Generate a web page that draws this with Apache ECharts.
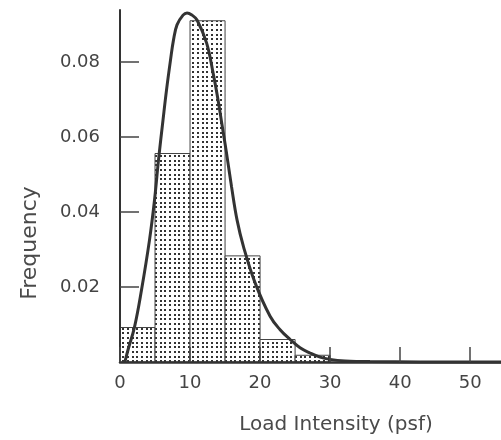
<!DOCTYPE html>
<html>
<head>
<meta charset="utf-8">
<script src="https://cdn.jsdelivr.net/npm/echarts@6/dist/echarts.min.js"></script>
<style>html,body{margin:0;padding:0;background:#fff;}#c{width:501px;height:440px;}</style>
</head>
<body>
<div id="c"></div>
<script>
// Histogram bins (psf) and frequencies
const binStart = [0, 5, 10, 15, 20, 25];
const binEnd = [5, 10, 15, 20, 25, 30];
const binFreq = [0.0092, 0.0556, 0.0910, 0.0283, 0.0060, 0.0018];

// Fitted curve points
const curveX = [0.7, 1.14, 2.07, 3.07, 4.21, 4.93, 5.5, 6.14, 6.64, 7.21, 7.64, 8.14, 9.0, 9.57, 10.29, 11.0, 12.36, 13.29, 14.0, 14.57, 15.21, 15.93, 16.71, 17.64, 19.29, 21.43, 22.86, 24.29, 25.71, 27.14, 28.57, 30, 32.14, 35.7, 42.9, 54.4];
const curveY = [0, 0.0032, 0.0093, 0.0192, 0.0325, 0.0432, 0.0539, 0.0645, 0.0725, 0.0805, 0.0859, 0.0899, 0.0925, 0.0931, 0.0925, 0.0912, 0.0851, 0.0771, 0.0699, 0.0632, 0.0557, 0.0467, 0.0379, 0.0307, 0.0211, 0.0122, 0.0086, 0.0060, 0.0038, 0.0024, 0.0013, 0.0007, 0.0003, 0.0001, 0.00003, 0];

const xTicks = [0, 10, 20, 30, 40, 50];
const yTicks = [0.02, 0.04, 0.06, 0.08];

// dotted fill pattern
const pc = document.createElement('canvas');
pc.width = 14; pc.height = 14;
const g = pc.getContext('2d');
g.fillStyle = '#fff'; g.fillRect(0, 0, 14, 14);
g.fillStyle = '#333';
[1, 6, 10].forEach(function (px) { [1, 6, 10].forEach(function (py) { g.fillRect(px, py, 2, 2); }); });
const pattern = { image: pc, repeat: 'repeat' };

const histData = binStart.map(function (s, i) { return [s, binEnd[i], binFreq[i]]; });
const curveData = curveX.map(function (x, i) { return [x, curveY[i]]; });

const chart = echarts.init(document.getElementById('c'), null, { renderer: 'canvas' });
chart.setOption({
  animation: false,
  backgroundColor: '#fff',
  grid: { left: 120, top: 10, right: 0, bottom: 78, containLabel: false, outerBoundsMode: 'none' },
  xAxis: {
    type: 'value', min: 0, max: 54.4, interval: 10, z: 5,
    axisLine: { show: true, onZero: false, lineStyle: { color: '#333', width: 2.5 } },
    axisTick: { show: true, inside: true, length: 15, lineStyle: { color: '#444', width: 1.5 } },
    splitLine: { show: false },
    axisLabel: {
      margin: 12, color: '#444', fontSize: 18, fontFamily: 'DejaVu Sans',
      showMaxLabel: false,
      formatter: function (v) { return xTicks.indexOf(v) >= 0 ? String(v) : ''; }
    }
  },
  yAxis: {
    type: 'value', min: 0, max: 0.09387, interval: 0.02, z: 5,
    axisLine: { show: true, onZero: false, lineStyle: { color: '#333', width: 2 } },
    axisTick: { show: true, inside: true, length: 19, lineStyle: { color: '#444', width: 1.5 } },
    splitLine: { show: false },
    axisLabel: {
      margin: 20, color: '#444', fontSize: 18, fontFamily: 'DejaVu Sans',
      showMinLabel: false, showMaxLabel: false,
      formatter: function (v) {
        for (let i = 0; i < yTicks.length; i++) { if (Math.abs(yTicks[i] - v) < 1e-9) return yTicks[i].toFixed(2); }
        return '';
      }
    }
  },
  graphic: [
    { type: 'text', x: 30, y: 243, rotation: Math.PI / 2,
      style: { text: 'Frequency', fill: '#4a4a4a', font: '22px "DejaVu Sans"', align: 'center', verticalAlign: 'middle' } },
    { type: 'text', x: 336, y: 425,
      style: { text: 'Load Intensity (psf)', fill: '#4a4a4a', font: '20px "DejaVu Sans"', align: 'center', verticalAlign: 'middle' } }
  ],
  series: [
    {
      type: 'custom', z: 2,
      data: histData,
      renderItem: function (params, api) {
        const p0 = api.coord([api.value(0), api.value(2)]);
        const p1 = api.coord([api.value(1), 0]);
        return {
          type: 'rect',
          shape: { x: p0[0], y: p0[1], width: p1[0] - p0[0], height: p1[1] - p0[1] },
          style: { fill: pattern, stroke: '#444', lineWidth: 1 }
        };
      }
    },
    {
      type: 'line', z: 3, data: curveData, smooth: 0.4, showSymbol: false, clip: false,
      lineStyle: { color: '#333', width: 3 }
    }
  ]
});
</script>
</body>
</html>
